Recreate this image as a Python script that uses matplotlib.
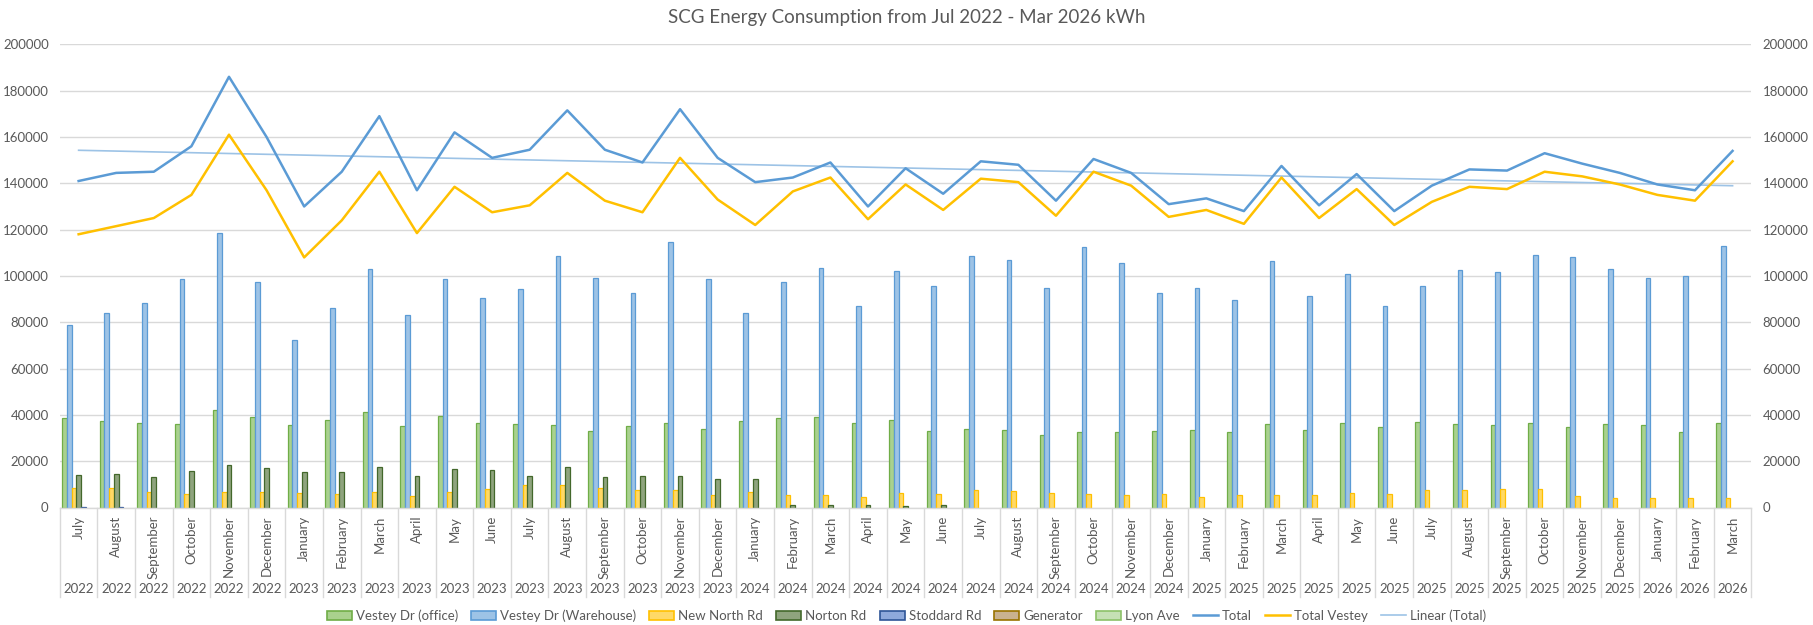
import numpy as np
import matplotlib.pyplot as plt
from matplotlib.patches import Patch
from matplotlib.lines import Line2D
from matplotlib.transforms import blended_transform_factory

plt.rcParams['font.family'] = ['Lato', 'DejaVu Sans']

# Data (kWh), Jul 2022 - Mar 2026

month_cycle = ['January', 'February', 'March', 'April', 'May', 'June', 'July',
               'August', 'September', 'October', 'November', 'December']
months = month_cycle[6:] + month_cycle * 3 + month_cycle[:3]
years = ['2022'] * 6 + ['2023'] * 12 + ['2024'] * 12 + ['2025'] * 12 + ['2026'] * 3

office = [38800, 37400, 36500, 36000, 42000, 39000,
          35800, 37600, 41400, 35400, 39600, 36500, 36000, 35500, 33200, 35100, 36400, 34100,
          37400, 38600, 39000, 36700, 37600, 33000, 33700, 33500, 31100, 32800, 32700, 33000,
          33500, 32500, 36100, 33400, 36400, 34700, 36800, 36000, 35500, 36300, 34800, 36100,
          35500, 32700, 36400]
warehouse = [79000, 84000, 88500, 98500, 118500, 97500,
             72500, 86000, 103000, 83000, 98500, 90500, 94500, 108500, 99000, 92500, 114500, 98500,
             84000, 97500, 103500, 87000, 102000, 95500, 108500, 107000, 95000, 112500, 105500, 92500,
             95000, 89500, 106500, 91500, 101000, 87000, 95500, 102500, 101500, 109000, 108000, 103000,
             99000, 100000, 113000]
new_north = [8300, 8300, 6600, 5900, 6600, 6500,
             6200, 5800, 6600, 4900, 6900, 7900, 9600, 9600, 8500, 7500, 7500, 5200,
             6500, 5200, 5200, 4500, 6300, 5800, 7500, 7000, 6200, 5800, 5300, 5900,
             4700, 5300, 5300, 5300, 6300, 6000, 7500, 7500, 8100, 7900, 5000, 4000,
             4000, 4000, 4300]
norton = [14100, 14400, 13100, 15800, 18300, 17100,
          15500, 15300, 17400, 13700, 16700, 16000, 13800, 17400, 13100, 13700, 13700, 12500,
          12200, 1000, 1200, 900, 600, 900, 0, 0, 0, 0, 0, 0,
          0, 0, 0, 0, 0, 0, 0, 0, 0, 0, 0, 0,
          0, 0, 0]
stoddard = [400, 200, 0, 0, 0, 0] + [0] * 39
generator = [0] * 45
lyon = [0] * 45

total = [141000, 144500, 145000, 156000, 186000, 160000,
         130000, 145000, 169000, 137000, 162000, 151000, 154500, 171500, 154500, 149000, 172000, 151000,
         140500, 142500, 149000, 130000, 146500, 135500, 149500, 148000, 132500, 150500, 144500, 131000,
         133500, 128000, 147500, 130500, 144000, 128000, 139000, 146000, 145500, 153000, 148500, 144500,
         139500, 137000, 154000]
total_vestey = [118000, 121500, 125000, 135000, 161000, 137000,
                108000, 124000, 145000, 118500, 138500, 127500, 130500, 144500, 132500, 127500, 151000, 133000,
                122000, 136500, 142500, 124500, 139500, 128500, 142000, 140500, 126000, 145000, 139000, 125500,
                128500, 122500, 142500, 125000, 137500, 122000, 132000, 138500, 137500, 145000, 143000, 139500,
                135000, 132500, 149500]

series = [
    ('Vestey Dr (office)', office, '#A9D18E', '#70AD47'),
    ('Vestey Dr (Warehouse)', warehouse, '#9DC3E6', '#5B9BD5'),
    ('New North Rd', new_north, '#FFD966', '#FFC000'),
    ('Norton Rd', norton, '#8FA47E', '#43682B'),
    ('Stoddard Rd', stoddard, '#8EA9DB', '#2F5597'),
    ('Generator', generator, '#C9B28F', '#997300'),
    ('Lyon Ave', lyon, '#C5E0B4', '#8CC168'),
]

grey = '#595959'
n = len(months)
x = np.arange(n)

fig = plt.figure(figsize=(18.13, 6.25), dpi=100)
ax = fig.add_axes([0.033, 0.188, 0.933, 0.741])

# gridlines
ax.set_ylim(0, 200000)
ax.set_xlim(-0.5, n - 0.5)
ax.set_yticks(np.arange(0, 200001, 20000))
ax.grid(axis='y', color='#D9D9D9', lw=1)
ax.set_axisbelow(True)
for s in ax.spines.values():
    s.set_visible(False)
ax.tick_params(axis='y', length=0, labelsize=9.5, labelcolor=grey,
               labelleft=True, labelright=True, pad=8)
ax.set_xticks([])

# bars
width = 0.125
handles = []
for i, (name, vals, fc, ec) in enumerate(series):
    vals = np.array(vals)
    keep = vals > 0
    ax.bar(x[keep] + (i - 3) * width, vals[keep], width=width, color=fc,
           edgecolor=ec, linewidth=0.9, zorder=2)
    handles.append(Patch(facecolor=fc, edgecolor=ec, linewidth=1.2, label=name))

# lines
ax.plot(x, total, color='#5B9BD5', lw=1.8, zorder=4)
ax.plot(x, total_vestey, color='#FFC000', lw=1.8, zorder=4)
k, b = np.polyfit(x, total, 1)
ax.plot(x, k * x + b, color='#9DC3E6', lw=1.2, zorder=3)
handles += [Line2D([], [], color='#5B9BD5', lw=1.8, label='Total'),
            Line2D([], [], color='#FFC000', lw=1.8, label='Total Vestey'),
            Line2D([], [], color='#9DC3E6', lw=1.2, label='Linear (Total)')]

# two-level category axis
tr = blended_transform_factory(ax.transData, ax.transAxes)
ax.plot([-0.5, n - 0.5], [0, 0], transform=tr, color='#D9D9D9', lw=1, clip_on=False)
for e in np.arange(-0.5, n, 1.0):
    ax.plot([e, e], [0, -0.193], transform=tr, color='#D9D9D9', lw=1, clip_on=False)
for xi, m, yr in zip(x, months, years):
    ax.text(xi, -0.018, m, transform=tr, rotation=90, ha='center', va='top',
            fontsize=9.5, color=grey)
    ax.text(xi, -0.176, yr, transform=tr, ha='center', va='center',
            fontsize=9.5, color=grey)

fig.text(0.5, 0.972, 'SCG Energy Consumption from Jul 2022 - Mar 2026 kWh',
         ha='center', va='center', fontsize=13.5, color=grey)

fig.legend(handles=handles, loc='center', bbox_to_anchor=(0.5, 0.015), ncol=10,
           frameon=False, fontsize=9.5, handlelength=1.9, handleheight=0.7,
           columnspacing=1.0, handletextpad=0.3, labelcolor=grey)

fig.savefig('out.png', dpi=100)
